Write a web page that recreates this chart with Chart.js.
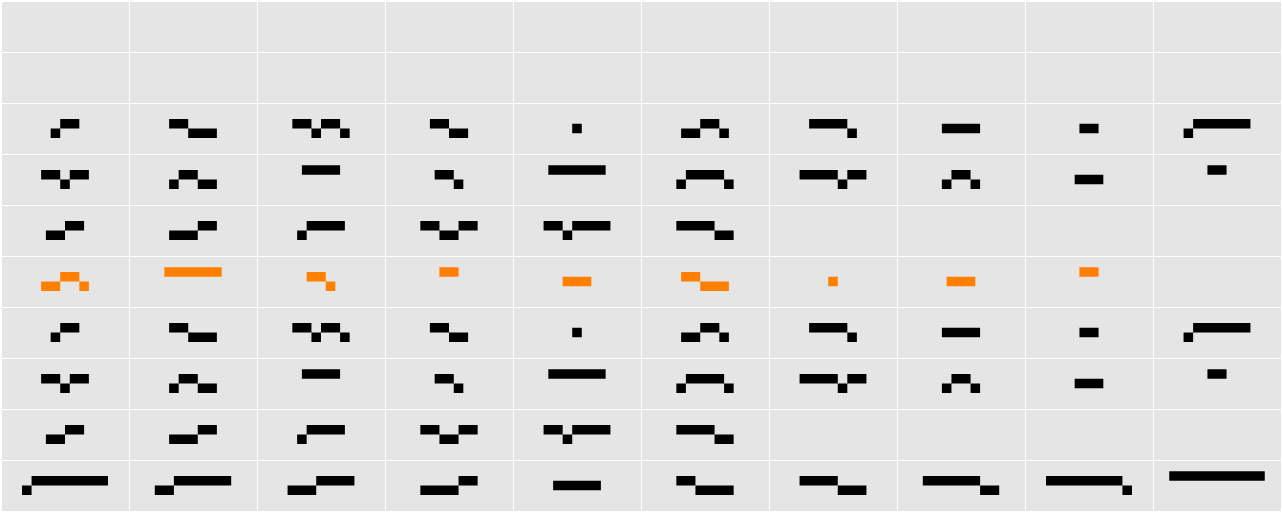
<!DOCTYPE html>
<html>
<head>
<meta charset="utf-8">
<script src="https://cdn.jsdelivr.net/npm/chart.js@4.4.0/dist/chart.umd.min.js"></script>
<style>
  html, body { margin: 0; padding: 0; background: #ffffff; }
  #wrap { width: 1282px; height: 512px; }
</style>
</head>
<body>
<div id="wrap"><canvas id="grid"></canvas></div>
<script>
// levels: 1 = high step, -1 = low step, 2 = flat run (high), 0 = flat run (low)
const rowA = [
  [-1, 1, 1],
  [1, 1, -1, -1, -1],
  [1, 1, -1, 1, 1, -1],
  [1, 1, -1, -1],
  [0],
  [-1, -1, 1, 1, -1],
  [1, 1, 1, 1, -1],
  [0, 0, 0, 0],
  [0, 0],
  [-1, 1, 1, 1, 1, 1, 1],
];
const rowB = [
  [1, 1, -1, 1, 1],
  [-1, 1, 1, -1, -1],
  [2, 2, 2, 2],
  [1, 1, -1],
  [2, 2, 2, 2, 2, 2],
  [-1, 1, 1, 1, 1, -1],
  [1, 1, 1, 1, -1, 1, 1],
  [-1, 1, 1, -1],
  [0, 0, 0],
  [2, 2],
];
const rowC = [
  [-1, -1, 1, 1],
  [-1, -1, -1, 1, 1],
  [-1, 1, 1, 1, 1],
  [1, 1, -1, -1, 1, 1],
  [1, 1, -1, 1, 1, 1, 1],
  [1, 1, 1, 1, -1, -1],
  [], [], [], [],
];
const rowHighlight = [
  [-1, -1, 1, 1, -1],
  [2, 2, 2, 2, 2, 2],
  [1, 1, -1],
  [2, 2],
  [0, 0, 0],
  [1, 1, -1, -1, -1],
  [0],
  [0, 0, 0],
  [2, 2],
  [],
];
const rowLast = [
  [-1, 1, 1, 1, 1, 1, 1, 1, 1],
  [-1, -1, 1, 1, 1, 1, 1, 1],
  [-1, -1, -1, 1, 1, 1, 1],
  [-1, -1, -1, -1, 1, 1],
  [0, 0, 0, 0, 0],
  [1, 1, -1, -1, -1, -1],
  [1, 1, 1, 1, -1, -1, -1],
  [1, 1, 1, 1, 1, 1, -1, -1],
  [1, 1, 1, 1, 1, 1, 1, 1, -1],
  [2, 2, 2, 2, 2, 2, 2, 2, 2, 2],
];
const emptyRow = [[], [], [], [], [], [], [], [], [], []];
const rows = [emptyRow, emptyRow, rowA, rowB, rowC, rowHighlight, rowA, rowB, rowC, rowLast];
const highlightRow = 5;

// one step = 9.55px wide out of a 128px cell, 4.75px half-height out of a 51px row
const stepX = 9.55 / 128;
const halfY = 4.75 / 51;

// each run of equal levels becomes one thick horizontal segment, runs split by a gap
function toRuns(rowIndex) {
  const pts = [];
  rows[rowIndex].forEach((cell, col) => {
    const n = cell.length;
    const left = col + 0.5 - (n / 2) * stepX;
    let i = 0;
    while (i < n) {
      let j = i;
      while (j + 1 < n && cell[j + 1] === cell[i]) j++;
      const y = rowIndex + 0.5 - cell[i] * halfY;
      pts.push({ x: left + i * stepX, y });
      pts.push({ x: left + (j + 1) * stepX, y });
      pts.push({ x: left + (j + 1) * stepX, y: null });
      i = j + 1;
    }
  });
  return pts;
}

const blackRuns = [];
rows.forEach((r, i) => {
  if (i !== highlightRow) blackRuns.push(...toRuns(i));
});
const orangeRuns = toRuns(highlightRow);

const panelBg = {
  id: "panelBg",
  beforeDraw(chart) {
    const { ctx, chartArea: a } = chart;
    ctx.save();
    ctx.fillStyle = "#e5e5e5";
    ctx.fillRect(a.left, a.top, a.right - a.left, a.bottom - a.top);
    ctx.restore();
  },
};

function runs(data, color) {
  return {
    data,
    showLine: true,
    spanGaps: false,
    borderColor: color,
    borderWidth: 9.5,
    borderCapStyle: "butt",
    pointRadius: 0,
    pointHoverRadius: 0,
  };
}

new Chart(document.getElementById("grid"), {
  type: "scatter",
  data: {
    datasets: [runs(blackRuns, "#000000"), runs(orangeRuns, "#ff7f00")],
  },
  options: {
    responsive: true,
    maintainAspectRatio: false,
    animation: false,
    events: [],
    layout: { autoPadding: false, padding: { left: 1, top: 1, right: 1, bottom: 1 } },
    plugins: { legend: { display: false }, tooltip: { enabled: false } },
    scales: {
      x: {
        type: "linear",
        min: 0,
        max: 10,
        ticks: { display: false, stepSize: 1, padding: 0 },
        grid: { color: "#ffffff", lineWidth: 1, drawTicks: false },
        border: { display: false },
        afterFit: (s) => { s.height = 0; },
      },
      y: {
        type: "linear",
        reverse: true,
        min: 0,
        max: 10,
        ticks: { display: false, stepSize: 1, padding: 0 },
        grid: { color: "#ffffff", lineWidth: 1, drawTicks: false },
        border: { display: false },
        afterFit: (s) => { s.width = 0; },
      },
    },
  },
  plugins: [panelBg],
});
</script>
</body>
</html>
